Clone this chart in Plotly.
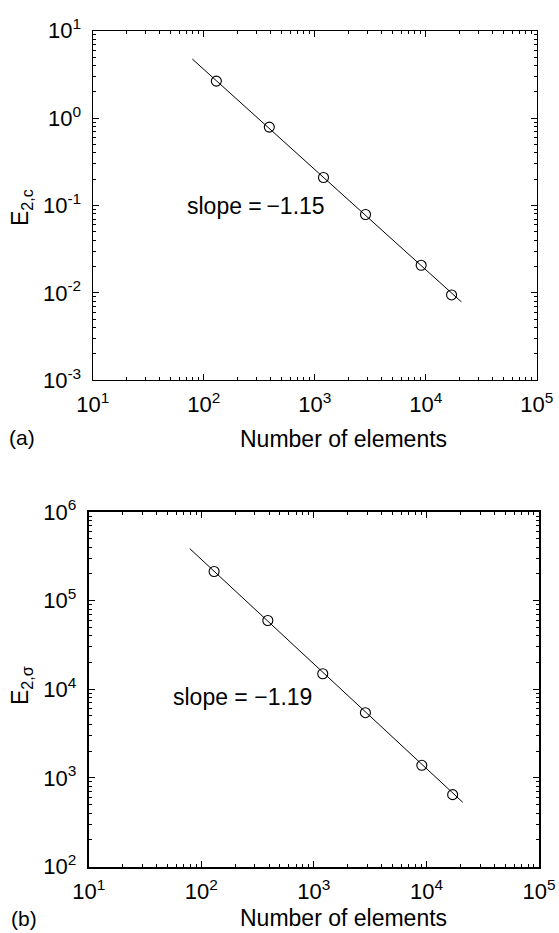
import numpy as np
import plotly.graph_objects as go

# ---- data ----
elements = [130, 390, 1200, 2870, 9100, 17100]
err_c = [2.65, 0.789, 0.209, 0.0789, 0.0207, 0.00948]
err_sigma = [213000, 59700, 14950, 5440, 1386, 647]

fit_x = [79, 21000]
fit_c = [4.74, 0.00788]
fit_sigma = [386000, 531]

slope_c_text = "slope =\u2009\u22121.15"
slope_sigma_text = "slope = \u22121.19"

x_decades = [1, 2, 3, 4, 5]
y_decades_c = [-3, -2, -1, 0, 1]
y_decades_s = [2, 3, 4, 5, 6]

W, H = 559, 933
FONT = "Liberation Sans, Arial, Helvetica, sans-serif"


def px2paper_x(px):
    return px / W


def px2paper_y(py):
    return 1 - py / H


def tick_text(decs):
    return [f"10<sup>{d}</sup>" for d in decs]


def minor_vals(decs):
    return [m * 10.0 ** d for d in decs[:-1] for m in range(2, 10)]


fig = go.Figure()

line_style = dict(color="black", width=1)
marker_style = dict(symbol="circle-open", size=10, color="black", line=dict(width=1.1, color="black"))

fig.add_trace(go.Scatter(x=fit_x, y=fit_c, mode="lines", line=line_style, xaxis="x", yaxis="y", showlegend=False))
fig.add_trace(go.Scatter(x=elements, y=err_c, mode="markers", marker=marker_style, xaxis="x", yaxis="y", showlegend=False))
fig.add_trace(go.Scatter(x=fit_x, y=fit_sigma, mode="lines", line=line_style, xaxis="x2", yaxis="y2", showlegend=False))
fig.add_trace(go.Scatter(x=elements, y=err_sigma, mode="markers", marker=marker_style, xaxis="x2", yaxis="y2", showlegend=False))

tickfont = dict(family=FONT, size=22, color="black")


def axis_common(decs, dom, anchor, lw):
    return dict(
        type="log",
        range=[decs[0], decs[-1]],
        domain=dom,
        anchor=anchor,
        tickmode="array",
        tickvals=[10.0 ** d for d in decs],
        ticktext=tick_text(decs),
        ticks="inside",
        ticklen=6,
        tickwidth=1,
        tickcolor="black",
        minor=dict(tickmode="array", tickvals=minor_vals(decs), ticks="inside",
                   ticklen=3, tickwidth=1, tickcolor="black", showgrid=False),
        showline=True,
        linecolor="black",
        linewidth=lw,
        mirror="ticks",
        showgrid=False,
        zeroline=False,
        tickfont=tickfont,
        automargin=False,
    )


# top panel: x 92.7..536.7 px, y 30.7..380.3 px
xa = axis_common(x_decades, [px2paper_x(92.7), px2paper_x(536.7)], "y", 1.3)
xa["ticklabelstandoff"] = 4
ya = axis_common(y_decades_c, [px2paper_y(380.3), px2paper_y(30.7)], "x", 1.3)
ya["ticklabelstandoff"] = 6
# bottom panel: x 88.7..539 px, y 512..866.5 px
xb = axis_common(x_decades, [px2paper_x(88.7), px2paper_x(539)], "y2", 1.8)
xb["ticklabelstandoff"] = 4
yb = axis_common(y_decades_s, [px2paper_y(866.5), px2paper_y(512)], "x2", 1.8)
yb["ticklabelstandoff"] = 6

fig.update_layout(
    width=W, height=H,
    margin=dict(l=0, r=0, t=0, b=0),
    autosize=False,
    paper_bgcolor="white",
    plot_bgcolor="white",
    font=dict(family=FONT, color="black"),
    xaxis=xa, yaxis=ya, xaxis2=xb, yaxis2=yb,
)

ann_font = dict(family=FONT, size=23, color="black")
annotations = [
    # slope texts (data coords, log10)
    dict(x=np.log10(68), y=-1.0, xref="x", yref="y", text=slope_c_text, showarrow=False,
         xanchor="left", yanchor="middle", font=ann_font),
    dict(x=np.log10(53.5), y=3.915, xref="x2", yref="y2", text=slope_sigma_text, showarrow=False,
         xanchor="left", yanchor="middle", font=ann_font),
    # x titles
    dict(x=px2paper_x(343), y=px2paper_y(439), xref="paper", yref="paper", text="Number of elements",
         showarrow=False, xanchor="center", yanchor="middle", font=ann_font),
    dict(x=px2paper_x(343), y=px2paper_y(918), xref="paper", yref="paper", text="Number of elements",
         showarrow=False, xanchor="center", yanchor="middle", font=ann_font),
    # y titles
    dict(x=px2paper_x(21), y=px2paper_y(208), xref="paper", yref="paper", text="E<sub>2,c</sub>",
         showarrow=False, xanchor="center", yanchor="middle", textangle=-90, font=ann_font),
    dict(x=px2paper_x(21), y=px2paper_y(686), xref="paper", yref="paper", text="E<sub>2,\u03c3</sub>",
         showarrow=False, xanchor="center", yanchor="middle", textangle=-90, font=ann_font),
    # panel labels
    dict(x=px2paper_x(7), y=px2paper_y(437), xref="paper", yref="paper", text="(a)",
         showarrow=False, xanchor="left", yanchor="middle", font=dict(family=FONT, size=21, color="black")),
    dict(x=px2paper_x(9), y=px2paper_y(918), xref="paper", yref="paper", text="(b)",
         showarrow=False, xanchor="left", yanchor="middle", font=dict(family=FONT, size=21, color="black")),
]
fig.update_layout(annotations=annotations)

fig.write_html("out.html")
